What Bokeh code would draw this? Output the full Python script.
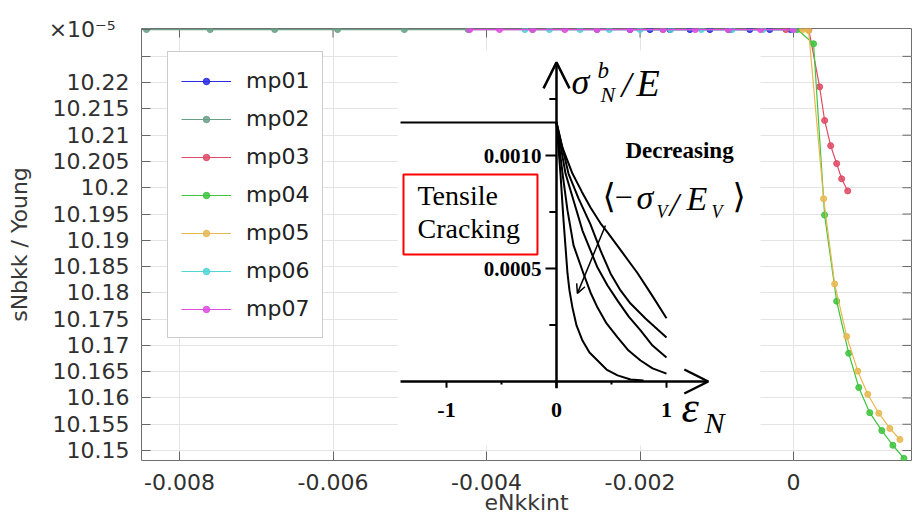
from bokeh.plotting import figure
from bokeh.models import (Range1d, FixedTicker, Legend, LegendItem,
                          Label, Arrow, OpenHead)
from bokeh.core.properties import value
from bokeh.embed import file_html
from bokeh.resources import INLINE

# ---------------- main chart data ----------------
x_ticks = [-0.008, -0.006, -0.004, -0.002, 0.0]
x_tick_labels = ["-0.008", "-0.006", "-0.004", "-0.002", "0"]
y_ticks = [10.15, 10.155, 10.16, 10.165, 10.17, 10.175, 10.18, 10.185,
           10.19, 10.195, 10.2, 10.205, 10.21, 10.215, 10.22, 10.225]
y_tick_labels = ["10.15", "10.155", "10.16", "10.165", "10.17", "10.175", "10.18", "10.185",
                 "10.19", "10.195", "10.2", "10.205", "10.21", "10.215", "10.22", ""]
# the axis multiplier shown at the top of the y axis
y_multiplier_pos = 10.2302
y_multiplier_label = "\u00d710\u207b\u2075\u00a0\u00a0"

names = ["mp01", "mp02", "mp03", "mp04", "mp05", "mp06", "mp07"]
colors = ["#2a2ae6", "#6aa086", "#e04a66", "#3ec43e", "#e8b850", "#4fd6d6", "#e04ce0"]

mp01_x = [-0.00213, -0.00187, -0.00161, -0.00135, -0.00109, -0.00083, -0.00057, -0.00031, -0.00004]
mp01_y = [10.2301, 10.2301, 10.2301, 10.2301, 10.2301, 10.2301, 10.2301, 10.2301, 10.2301]

mp02_x = [-0.00843, -0.00760, -0.00676, -0.00594, -0.00507, -0.00424, -0.00340, -0.00256, -0.00170, -0.00085, 0.0]
mp02_y = [10.2301, 10.2301, 10.2301, 10.2301, 10.2301, 10.2301, 10.2301, 10.2301, 10.2301, 10.2301, 10.2301]

mp03_x = [-0.00010, 0.00020, 0.00034, 0.000405, 0.000484, 0.000562, 0.000627, 0.000706]
mp03_y = [10.2301, 10.2300, 10.2192, 10.2128, 10.2080, 10.2046, 10.2017, 10.1994]

mp04_x = [0.00005, 0.000261, 0.000405, 0.000562, 0.000719, 0.000850, 0.000993, 0.001150, 0.001294, 0.001438]
mp04_y = [10.2301, 10.2274, 10.1948, 10.1784, 10.1685, 10.1620, 10.1572, 10.1538, 10.1510, 10.1485]

mp05_x = [0.00012, 0.000196, 0.000392, 0.000536, 0.000693, 0.000837, 0.000967, 0.001111, 0.001255, 0.001386]
mp05_y = [10.2301, 10.2299, 10.1979, 10.1817, 10.1717, 10.1651, 10.1607, 10.1571, 10.1542, 10.1521]

mp06_x = [-0.00350, -0.00318, -0.00278, -0.00240, -0.00200, -0.00160, -0.00120, -0.00080, -0.00040, 0.0]
mp06_y = [10.2301, 10.2301, 10.2301, 10.2301, 10.2301, 10.2301, 10.2301, 10.2301, 10.2301, 10.2301]

mp07_x = [-0.00422, -0.00383, -0.00340, -0.00298, -0.00256, -0.00213, -0.00170, -0.00128, -0.00085, -0.00043, 0.0]
mp07_y = [10.2301, 10.2301, 10.2301, 10.2301, 10.2301, 10.2301, 10.2301, 10.2301, 10.2301, 10.2301, 10.2301]

series_x = [mp01_x, mp02_x, mp03_x, mp04_x, mp05_x, mp06_x, mp07_x]
series_y = [mp01_y, mp02_y, mp03_y, mp04_y, mp05_y, mp06_y, mp07_y]

# ---------------- inset schematic data ----------------
ins_eps_ticks = [-1, 0, 1]
ins_eps_tick_labels = ["-1", "0", "1"]
ins_eps_minor = [-0.5, 0.5]
ins_sig_ticks = [0.0005, 0.0010]
ins_sig_tick_labels = ["0.0005", "0.0010"]
ins_sig_minor = [0.00025, 0.00075, 0.00125]
tensile_level = 0.001146
tensile_eps_start = -1.418

curve1_eps = [0.0, 0.036, 0.064, 0.100, 0.118, 0.145, 0.182, 0.236, 0.300, 0.373, 0.455, 0.555, 0.673, 0.791]
curve1_sig = [0.001146, 0.00092, 0.000712, 0.000478, 0.000403, 0.000327, 0.000248, 0.000181,
              0.000128, 0.000093, 0.000053, 0.000027, 0.000009, 0.000004]
curve2_eps = [0.0, 0.055, 0.100, 0.155, 0.245, 0.309, 0.373, 0.455, 0.555, 0.655, 0.764, 0.873, 1.0]
curve2_sig = [0.001146, 0.00092, 0.000757, 0.000602, 0.000478, 0.000394, 0.000327, 0.000257,
              0.000195, 0.000137, 0.000093, 0.000058, 0.000035]
curve3_eps = [0.0, 0.082, 0.155, 0.236, 0.309, 0.373, 0.464, 0.555, 0.655, 0.764, 0.873, 1.0]
curve3_sig = [0.001146, 0.00092, 0.000801, 0.000668, 0.00058, 0.000504, 0.000425, 0.000358,
              0.000288, 0.000226, 0.000159, 0.000106]
curve4_eps = [0.0, 0.109, 0.200, 0.309, 0.400, 0.491, 0.582, 0.673, 0.809, 1.0]
curve4_sig = [0.001146, 0.00092, 0.00081, 0.000695, 0.00058, 0.000478, 0.000403, 0.000345,
              0.000279, 0.000195]
curve5_eps = [0.0, 0.05, 0.145, 0.23, 0.309, 0.40, 0.464, 0.60, 0.736, 0.87, 1.0]
curve5_sig = [0.001146, 0.00104, 0.00092, 0.00084, 0.00077, 0.00070, 0.00066, 0.00057,
              0.00048, 0.00038, 0.00028]
curves_eps = [curve1_eps, curve2_eps, curve3_eps, curve4_eps, curve5_eps]
curves_sig = [curve1_sig, curve2_sig, curve3_sig, curve4_sig, curve5_sig]

SANS = "DejaVu Sans"
SERIF = "Liberation Serif"

X0, X1 = -0.008495, 0.001537
Y0, Y1 = 10.1481, 10.2303

p = figure(width=918, height=522,
           x_range=Range1d(X0, X1), y_range=Range1d(Y0, Y1),
           output_backend="svg", toolbar_location=None,
           min_border_left=141, min_border_top=28,
           min_border_right=7, min_border_bottom=62,
           x_axis_label="eNkkint", y_axis_label="sNbkk / Young")
p.extra_x_ranges = {"ins_x": Range1d(-3.7727, 3.2273)}
p.extra_y_ranges = {"ins_y": Range1d(-0.00034956, 0.00156195)}

p.outline_line_color = "#6e6e6e"
p.outline_line_width = 1
p.background_fill_color = "white"
p.border_fill_color = "white"

y_axis_ticks = y_ticks + [y_multiplier_pos]
y_axis_labels = y_tick_labels + [y_multiplier_label]

p.xaxis.ticker = FixedTicker(ticks=x_ticks)
p.xaxis.major_label_overrides = {v: s for v, s in zip(x_ticks, x_tick_labels)}
p.yaxis.ticker = FixedTicker(ticks=y_axis_ticks)
p.yaxis.major_label_overrides = {v: s for v, s in zip(y_axis_ticks, y_axis_labels)}

for ax in list(p.xaxis) + list(p.yaxis):
    ax.axis_line_color = None
    ax.major_tick_in = 9
    ax.major_tick_out = 0
    ax.minor_tick_in = 0
    ax.minor_tick_out = 0
    ax.major_tick_line_color = "#666666"
    ax.major_label_text_font = SANS
    ax.major_label_text_font_size = "22px"
    ax.major_label_text_color = "#303030"
    ax.axis_label_text_font = SANS
    ax.axis_label_text_font_size = "22px"
    ax.axis_label_text_font_style = "normal"
    ax.axis_label_text_color = "#383838"
p.xaxis.major_label_standoff = 13
p.xaxis.axis_label_standoff = -3
p.yaxis.major_label_standoff = 12
p.yaxis.axis_label_standoff = 14

p.xgrid.ticker = FixedTicker(ticks=x_ticks)
p.ygrid.ticker = FixedTicker(ticks=y_ticks)
p.grid.grid_line_color = "#e4e4e4"
p.grid.grid_line_width = 1

# inward ticks on the top and right edges of the box
TICK_X = 9 / 76750.0
TICK_Y = 9 / 5243.0
p.segment(x0=x_ticks, y0=[Y1] * len(x_ticks), x1=x_ticks, y1=[Y1 - TICK_Y] * len(x_ticks),
          line_color="#666666", line_width=1)
p.segment(x0=[X1] * len(y_ticks), y0=y_ticks, x1=[X1 - TICK_X] * len(y_ticks), y1=y_ticks,
          line_color="#666666", line_width=1)

# ---------------- inset (pasted schematic) ----------------
IR = dict(x_range_name="ins_x", y_range_name="ins_y")
p.quad(left=-1.445, right=1.855, bottom=-0.000283, top=0.001465,
       fill_color="white", line_color=None, **IR)

p.line([tensile_eps_start, 0.0], [tensile_level, tensile_level],
       line_color="black", line_width=2, **IR)

for ce, cs in zip(curves_eps, curves_sig):
    p.line(ce, cs, line_color="black", line_width=2, line_join="round", **IR)

p.add_layout(Arrow(x_start=tensile_eps_start, y_start=0.0, x_end=1.38, y_end=0.0,
                   line_width=2.5, line_color="black",
                   end=OpenHead(size=24, line_width=2.5, line_color="black"), **IR))
p.add_layout(Arrow(x_start=0.0, y_start=-0.00003, x_end=0.0, y_end=0.001412,
                   line_width=2.5, line_color="black",
                   end=OpenHead(size=26, line_width=2.5, line_color="black"), **IR))

p.segment(x0=ins_eps_ticks, y0=[0.0] * len(ins_eps_ticks), x1=ins_eps_ticks,
          y1=[-0.000028] * len(ins_eps_ticks), line_color="black", line_width=2, **IR)
p.segment(x0=ins_eps_minor, y0=[0.0] * len(ins_eps_minor), x1=ins_eps_minor,
          y1=[-0.000013] * len(ins_eps_minor), line_color="black", line_width=2, **IR)
p.segment(x0=[0.0] * len(ins_sig_ticks), y0=ins_sig_ticks, x1=[-0.10] * len(ins_sig_ticks),
          y1=ins_sig_ticks, line_color="black", line_width=2, **IR)
p.segment(x0=[0.0] * len(ins_sig_minor), y0=ins_sig_minor, x1=[-0.065] * len(ins_sig_minor),
          y1=ins_sig_minor, line_color="black", line_width=2, **IR)

p.text(x=ins_eps_ticks, y=[-0.000128] * len(ins_eps_ticks), text=ins_eps_tick_labels,
       text_font=value(SERIF), text_font_style="bold", text_font_size="22px",
       text_align="center", text_baseline="middle", text_color="black", **IR)
p.text(x=[-0.136] * len(ins_sig_ticks), y=ins_sig_ticks, text=ins_sig_tick_labels,
       text_font=value(SERIF), text_font_style="bold", text_font_size="21px",
       text_align="right", text_baseline="middle", text_color="black", **IR)

p.quad(left=-1.391, right=-0.173, bottom=0.000562, top=0.000916,
       fill_color="white", line_color="#ff0000", line_width=2, **IR)


def lab(txt, x, y, size, style="normal", font=SERIF):
    p.add_layout(Label(x=x, y=y, text=txt, text_font=font, text_font_size=size,
                       text_font_style=style, text_color="black",
                       text_baseline="middle", text_align="left", **IR))


lab("Tensile", -1.264, 0.000825, "28px")
lab("Cracking", -1.264, 0.000675, "28px")
lab("Decreasing", 0.627, 0.001021, "23px", "bold")

lab("\u27e8", 0.418, 0.000819, "34px", "normal", "DejaVu Serif")
lab("\u2212", 0.527, 0.000814, "32px")
lab("\u03c3", 0.727, 0.000812, "34px", "italic")
lab("V", 0.909, 0.000752, "18px", "italic")
lab("/", 1.027, 0.000785, "34px", "italic")
lab("E", 1.182, 0.000808, "34px", "italic")
lab("V", 1.409, 0.000752, "18px", "italic")
lab("\u27e9", 1.60, 0.000819, "34px", "normal", "DejaVu Serif")

p.add_layout(Arrow(x_start=0.445, y_start=0.00069, x_end=0.19, y_end=0.00039,
                   line_width=1.5, line_color="black",
                   end=OpenHead(size=9, line_width=1.5, line_color="black"), **IR))

lab("\u03c3", 0.136, 0.001327, "36px", "italic")
lab("b", 0.373, 0.001376, "23px", "italic")
lab("N", 0.40, 0.001268, "22px", "italic")
lab("/", 0.591, 0.001314, "36px", "italic")
lab("E", 0.727, 0.001323, "38px", "italic")

lab("\u03b5", 1.136, -0.000115, "44px", "italic")
lab("N", 1.345, -0.000181, "30px", "italic")

# ---------------- main series ----------------
items = []
for name, col, xs, ys in zip(names, colors, series_x, series_y):
    r1 = p.line(xs, ys, line_color=col, line_width=1.2)
    r2 = p.scatter(xs, ys, size=6, fill_color=col, line_color=col, fill_alpha=0.85)
    items.append(LegendItem(label=name, renderers=[r1, r2]))

legend = Legend(items=items, location=(26, 122), orientation="vertical",
                label_text_font=SANS, label_text_font_size="22px", label_text_color="#222222",
                glyph_width=50, glyph_height=16, label_height=31, spacing=7,
                padding=13, margin=0, label_standoff=15,
                border_line_color="#9a9a9a", border_line_width=1,
                background_fill_color="white", background_fill_alpha=1.0)
p.add_layout(legend, "center")

open("out.html", "w").write(file_html(p, INLINE))
